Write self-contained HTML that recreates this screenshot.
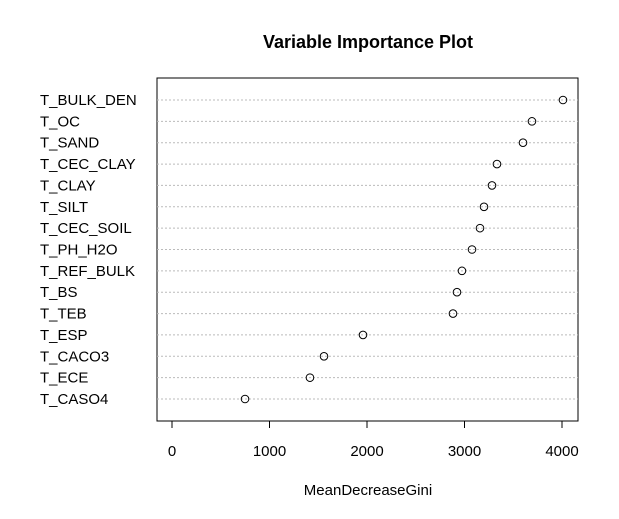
<!DOCTYPE html>
<html><head><meta charset="utf-8"><style>body{margin:0;background:#fff}svg{display:block}text{font-family:"Liberation Sans",sans-serif}</style></head>
<body>
<svg id="c" width="619" height="519" xmlns="http://www.w3.org/2000/svg">
<rect width="619" height="519" fill="#fff"/>
<text x="368" y="48" font-size="18" font-weight="bold" text-anchor="middle">Variable Importance Plot</text>
<rect x="157" y="78" width="421" height="343" fill="none" stroke="#000" stroke-width="1"/>
<text x="368" y="495" font-size="15" text-anchor="middle">MeanDecreaseGini</text>
</svg>
<script>
const categories=["T_BULK_DEN","T_OC","T_SAND","T_CEC_CLAY","T_CLAY","T_SILT","T_CEC_SOIL","T_PH_H2O","T_REF_BULK","T_BS","T_TEB","T_ESP","T_CACO3","T_ECE","T_CASO4"];
const values=[4010,3692,3600,3333,3282,3200,3159,3077,2974,2923,2882,1959,1559,1415,749];
const ticks=[0,1000,2000,3000,4000];
const svg=document.getElementById('c');const NS='http://www.w3.org/2000/svg';
const x=v=>172+v*0.0975;
const y=i=>100+i*(299/14);
function mk(t,a){const e=document.createElementNS(NS,t);for(const k in a)e.setAttribute(k,a[k]);svg.appendChild(e);return e;}
categories.forEach((c,i)=>{
 const g=mk('line',{x1:157,x2:578,y1:y(i),y2:y(i),stroke:'#bbb','stroke-dasharray':'2,2','stroke-width':1});
 
 
 const t=mk('text',{x:40,y:y(i)+5,'font-size':15});t.textContent=c;
 
 
});
values.forEach((v,i)=>{
 const p=mk('circle',{cx:x(v),cy:y(i),r:3.8,fill:'none',stroke:'#000','stroke-width':1});
 
 
});
const ax=mk('line',{x1:x(0),x2:x(4000),y1:421,y2:421,stroke:'#000'});


ticks.forEach(t=>{
 const l=mk('line',{x1:x(t),x2:x(t),y1:421,y2:428,stroke:'#000'});
 
 
 const tx=mk('text',{x:x(t),y:456,'font-size':15,'text-anchor':'middle'});tx.textContent=t;
 
 
});
</script>
</body></html>
